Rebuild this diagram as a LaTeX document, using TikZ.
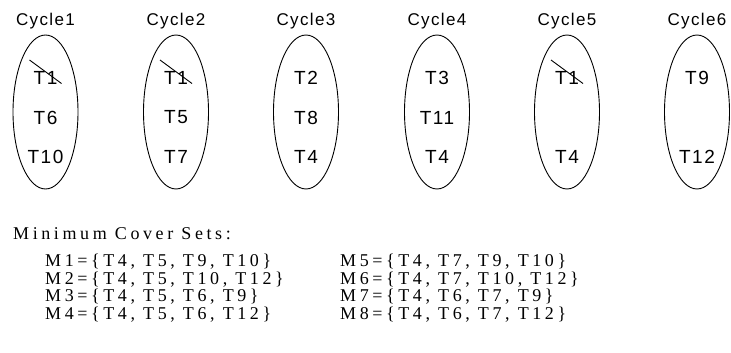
\documentclass[tikz,border=0pt]{standalone}
\usepackage{fontspec}
\setmainfont{Liberation Serif}
\newfontfamily\arialf[LetterSpace=8]{Liberation Sans}
\newfontfamily\cyclef[LetterSpace=8]{Liberation Sans}
\newfontfamily\setf[LetterSpace=20]{Liberation Serif}
\usetikzlibrary{shapes.geometric,calc}
\begin{document}
\begin{tikzpicture}[x=1pt,y=-1pt,
  cyc/.style={draw, ellipse, line width=0.9pt, minimum width=65pt, minimum height=154pt, inner sep=0pt},
  cyclbl/.style={inner sep=0pt, font=\cyclef\fontsize{17}{17}\selectfont},
  tlbl/.style={inner sep=0pt, font=\arialf\fontsize{19}{19}\selectfont},
  strike/.style={line width=0.9pt},
  settxt/.style={inner sep=0pt, anchor=west, font=\setf\fontsize{18}{18}\selectfont}]
\useasboundingbox (0,0) rectangle (731,353);
% ellipses
\node[cyc] (e1) at (45.5,112) {};
\node[cyc] (e2) at (176,112) {};
\node[cyc] (e3) at (306,112) {};
\node[cyc] (e4) at (437,112) {};
\node[cyc] (e5) at (567,112) {};
\node[cyc] (e6) at (697,112) {};
% titles
\node[cyclbl] (c1) at (45.5,21) {Cycle1};
\node[cyclbl] (c2) at (176,21) {Cycle2};
\node[cyclbl] (c3) at (306,21) {Cycle3};
\node[cyclbl] (c4) at (437,21) {Cycle4};
\node[cyclbl] (c5) at (567,21) {Cycle5};
\node[cyclbl] (c6) at (697,21) {Cycle6};
% contents
\node[tlbl] (a1) at (45.5,78) {T1};
\node[tlbl] (a2) at (45.5,117.5) {T6};
\node[tlbl] (a3) at (45.5,157) {T10};
\node[tlbl] (b1) at (176,78) {T1};
\node[tlbl] (b2) at (176,117.5) {T5};
\node[tlbl] (b3) at (176,157) {T7};
\node[tlbl] (d1) at (306,78) {T2};
\node[tlbl] (d2) at (306,117.5) {T8};
\node[tlbl] (d3) at (306,157) {T4};
\node[tlbl] (f1) at (437,78) {T3};
\node[tlbl] (f2) at (437,117.5) {T11};
\node[tlbl] (f3) at (437,157) {T4};
\node[tlbl] (g1) at (567,78) {T1};
\node[tlbl] (g3) at (567,157) {T4};
\node[tlbl] (h1) at (697,78) {T9};
\node[tlbl] (h3) at (697,157) {T12};
% strike-outs
\draw[strike] ($(a1.center)+(-16,-18)$) -- ($(a1.center)+(16,5.5)$);
\draw[strike] ($(b1.center)+(-16,-18)$) -- ($(b1.center)+(16,5.5)$);
\draw[strike] ($(g1.center)+(-16,-18)$) -- ($(g1.center)+(16,5.5)$);
% cover sets
\node[settxt] (mt) at (13,234) {Minimum Cover Sets:};
\node[settxt] (m1) at (45,262) {M1=\{T4, T5, T9, T10\}};
\node[settxt] (m2) at (45,279.5) {M2=\{T4, T5, T10, T12\}};
\node[settxt] (m3) at (45,297) {M3=\{T4, T5, T6, T9\}};
\node[settxt] (m4) at (45,314.5) {M4=\{T4, T5, T6, T12\}};
\node[settxt] (m5) at (340,262) {M5=\{T4, T7, T9, T10\}};
\node[settxt] (m6) at (340,279.5) {M6=\{T4, T7, T10, T12\}};
\node[settxt] (m7) at (340,297) {M7=\{T4, T6, T7, T9\}};
\node[settxt] (m8) at (340,314.5) {M8=\{T4, T6, T7, T12\}};
\end{tikzpicture}
\end{document}
